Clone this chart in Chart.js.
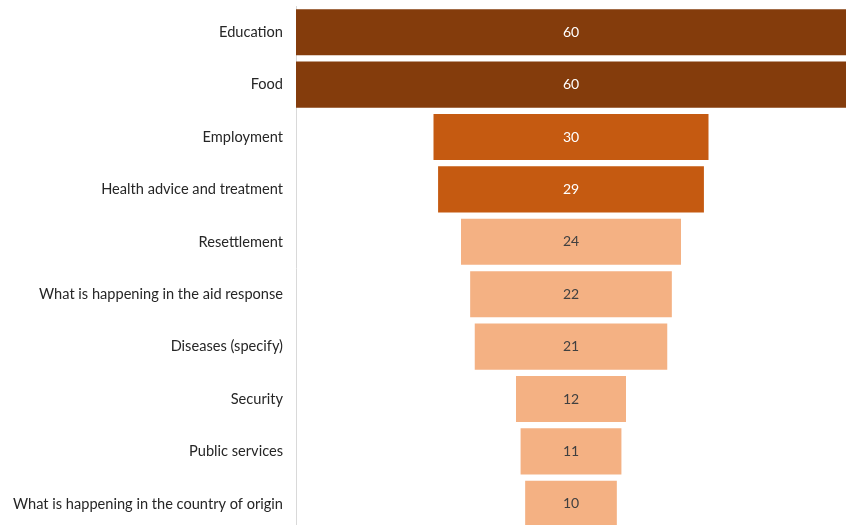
<!DOCTYPE html>
<html>
<head>
<meta charset="utf-8">
<script src="https://cdn.jsdelivr.net/npm/chart.js@4/dist/chart.umd.min.js"></script>
<style>
html,body{margin:0;padding:0;background:#fff;overflow:hidden;}
canvas{display:block;}
</style>
</head>
<body>
<canvas id="c" width="846" height="530"></canvas>
<script>
const categories = [
  "Education",
  "Food",
  "Employment",
  "Health advice and treatment",
  "Resettlement",
  "What is happening in the aid response",
  "Diseases (specify)",
  "Security",
  "Public services",
  "What is happening in the country of origin"
];
const values = [60, 60, 30, 29, 24, 22, 21, 12, 11, 10];
const barColors = ["#843C0C", "#843C0C", "#C55A11", "#C55A11", "#F4B183", "#F4B183", "#F4B183", "#F4B183", "#F4B183", "#F4B183"];
const labelColors = ["#FFFFFF", "#FFFFFF", "#FFFFFF", "#FFFFFF", "#404040", "#404040", "#404040", "#404040", "#404040", "#404040"];

const maxVal = Math.max(...values);
const floating = values.map(v => [-v / 2, v / 2]);

const valueLabels = {
  id: 'valueLabels',
  afterDatasetsDraw(chart) {
    const ctx = chart.ctx;
    const meta = chart.getDatasetMeta(0);
    const xs = chart.scales.x;
    ctx.save();
    ctx.font = '14px Lato, "Open Sans", sans-serif';
    ctx.textAlign = 'center';
    ctx.textBaseline = 'middle';
    meta.data.forEach((bar, i) => {
      ctx.fillStyle = labelColors[i];
      ctx.fillText(String(values[i]), xs.getPixelForValue(0), bar.y);
    });
    ctx.restore();
  }
};

new Chart(document.getElementById('c'), {
  type: 'bar',
  data: {
    labels: categories,
    datasets: [{
      data: floating,
      backgroundColor: barColors,
      borderWidth: 0,
      barPercentage: 0.88,
      categoryPercentage: 1.0
    }]
  },
  options: {
    indexAxis: 'y',
    responsive: false,
    animation: false,
    layout: { padding: { top: 6, right: 0, bottom: 0, left: 0 } },
    plugins: { legend: { display: false }, tooltip: { enabled: false } },
    scales: {
      x: {
        display: false,
        min: -maxVal / 2,
        max: maxVal / 2
      },
      y: {
        afterFit(scale) { scale.width = 296; scale.paddingTop = 0; scale.paddingBottom = 0; },
        grid: { display: false, drawTicks: false },
        border: { display: true, color: '#D9D9D9', width: 1 },
        ticks: {
          padding: 13,
          color: '#262626',
          font: { family: 'Lato, "Open Sans", sans-serif', size: 14.6 }
        }
      }
    }
  },
  plugins: [valueLabels]
});
</script>
</body>
</html>
